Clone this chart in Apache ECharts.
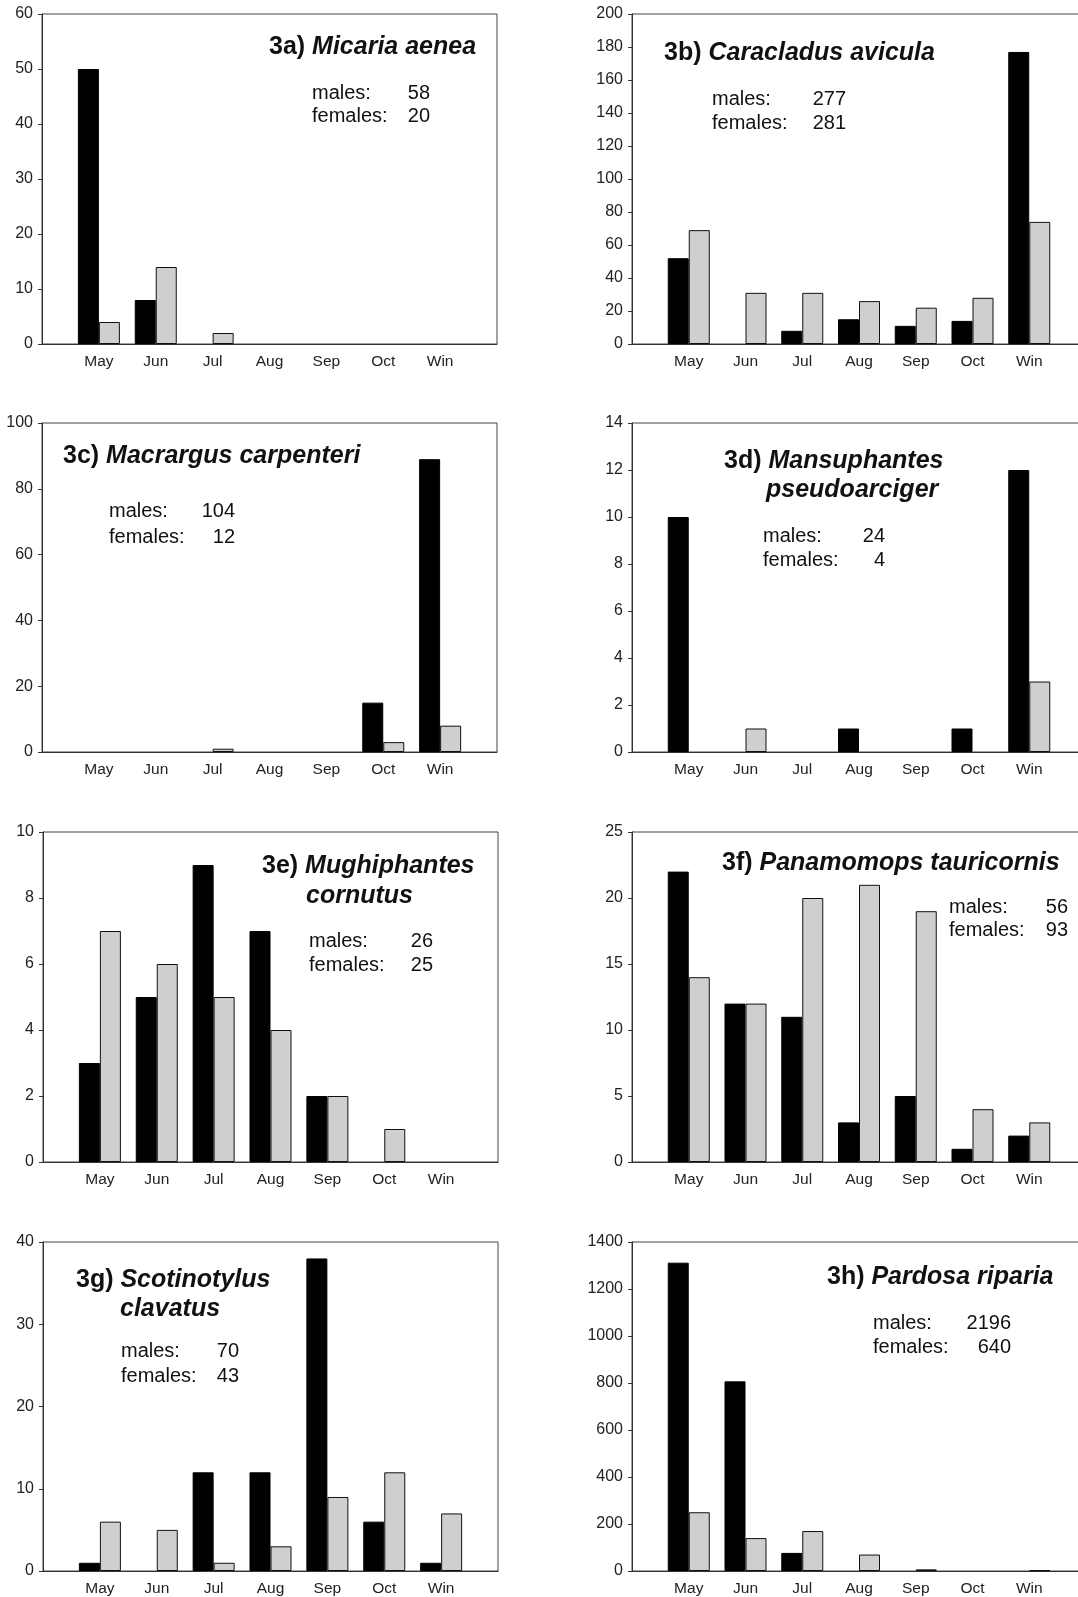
<!DOCTYPE html>
<html><head><meta charset="utf-8">
<script src="https://cdn.jsdelivr.net/npm/echarts@6/dist/echarts.min.js"></script>
<style>html,body{margin:0;padding:0;background:#fff;overflow:hidden}#c{width:1100px;height:1597px}</style>
</head><body><div id="c"></div>
<script>
// ---------- data ----------
const months = ['May', 'Jun', 'Jul', 'Aug', 'Sep', 'Oct', 'Win'];

const malesA = [50, 8, 0, 0, 0, 0, 0];
const femalesA = [4, 14, 2, 0, 0, 0, 0];
const malesB = [52, 0, 8, 15, 11, 14, 177];
const femalesB = [69, 31, 31, 26, 22, 28, 74];
const malesC = [0, 0, 0, 0, 0, 15, 89];
const femalesC = [0, 0, 1, 0, 0, 3, 8];
const malesD = [10, 0, 0, 1, 0, 1, 12];
const femalesD = [0, 1, 0, 0, 0, 0, 3];
const malesE = [3, 5, 9, 7, 2, 0, 0];
const femalesE = [7, 6, 5, 4, 2, 1, 0];
const malesF = [22, 12, 11, 3, 5, 1, 2];
const femalesF = [14, 12, 20, 21, 19, 4, 3];
const malesG = [1, 0, 12, 12, 38, 6, 1];
const femalesG = [6, 5, 1, 3, 9, 12, 7];
const malesH = [1312, 807, 77, 0, 0, 0, 0];
const femalesH = [250, 140, 170, 70, 7, 0, 3];

const yMax = [60, 200, 100, 14, 10, 25, 40, 1400];
const yStep = [10, 20, 20, 2, 2, 5, 10, 200];

const panelLabels = ['3a)', '3b)', '3c)', '3d)', '3e)', '3f)', '3g)', '3h)'];
const speciesLines = [
  ['Micaria aenea'],
  ['Caracladus avicula'],
  ['Macrargus carpenteri'],
  ['Mansuphantes', 'pseudoarciger'],
  ['Mughiphantes', 'cornutus'],
  ['Panamomops tauricornis'],
  ['Scotinotylus', 'clavatus'],
  ['Pardosa riparia']
];
const totalMales = [58, 277, 104, 24, 26, 56, 70, 2196];
const totalFemales = [20, 281, 12, 4, 25, 93, 43, 640];

const malesAll = [malesA, malesB, malesC, malesD, malesE, malesF, malesG, malesH];
const femalesAll = [femalesA, femalesB, femalesC, femalesD, femalesE, femalesF, femalesG, femalesH];

// ---------- layout (positions only) ----------
const grids = [
  {left: 42, top: 14, width: 455, height: 330},
  {left: 632, top: 14, width: 454, height: 330},
  {left: 42, top: 423, width: 455, height: 329},
  {left: 632, top: 423, width: 454, height: 329},
  {left: 43, top: 832, width: 455, height: 330},
  {left: 632, top: 832, width: 454, height: 330},
  {left: 43, top: 1242, width: 455, height: 330},
  {left: 632, top: 1242, width: 454, height: 330}
];
// title line positions [x, y] ; stats: [labelX, numRightX, y1, y2]
const titlePos = [
  [[269, 47]],
  [[664, 53]],
  [[63, 456]],
  [[724, 461], [766, 490]],
  [[262, 866], [306, 896]],
  [[722, 863]],
  [[76, 1280], [120, 1309]],
  [[827, 1277]]
];
const statPos = [
  [312, 430, 93, 116],
  [712, 846, 99, 123],
  [109, 235, 511, 537],
  [763, 885, 536, 560],
  [309, 433, 941, 965],
  [949, 1068, 907, 930],
  [121, 239, 1351, 1376],
  [873, 1011, 1323, 1347]
];

const FONT = '"Liberation Sans", Arial, sans-serif';
const axisCats = [''].concat(months, ['']);
// zero counts draw no bar
const pad = arr => ['-'].concat(arr.map(v => (v === 0 ? '-' : v)), ['-']);

const option = {
  backgroundColor: '#fff',
  animation: false,
  grid: [], xAxis: [], yAxis: [], series: [], graphic: []
};

for (let i = 0; i < 8; i++) {
  option.grid.push({
    left: grids[i].left, top: grids[i].top, width: grids[i].width, height: grids[i].height,
    show: true, borderColor: '#444', borderWidth: 1, backgroundColor: 'transparent'
  });
  option.xAxis.push({
    type: 'category', gridIndex: i, data: axisCats, boundaryGap: false,
    axisLine: {show: true, lineStyle: {color: '#333', width: 1}},
    axisTick: {show: false},
    axisLabel: {color: '#222', fontSize: 15.5, fontFamily: FONT, margin: 10, interval: 0},
    splitLine: {show: false}
  });
  option.yAxis.push({
    type: 'value', gridIndex: i, min: 0, max: yMax[i], interval: yStep[i],
    axisLine: {show: true, lineStyle: {color: '#333', width: 1}},
    axisTick: {show: true, inside: false, length: 4, lineStyle: {color: '#333'}},
    axisLabel: {color: '#222', fontSize: 16, fontFamily: FONT, margin: 9,
                formatter: v => String(v)},
    splitLine: {show: false}
  });
  option.series.push({
    type: 'bar', xAxisIndex: i, yAxisIndex: i, data: pad(malesAll[i]),
    barWidth: 21, barGap: '0%',
    itemStyle: {color: '#000', borderColor: '#000', borderWidth: 1}
  });
  option.series.push({
    type: 'bar', xAxisIndex: i, yAxisIndex: i, data: pad(femalesAll[i]),
    barWidth: 21, barGap: '0%',
    itemStyle: {color: '#cfcfcf', borderColor: '#111', borderWidth: 1}
  });

  // title
  const lines = speciesLines[i];
  lines.forEach((ln, k) => {
    const txt = k === 0 ? '{n|' + panelLabels[i] + '} {s|' + ln + '}' : '{s|' + ln + '}';
    option.graphic.push({
      type: 'text', x: titlePos[i][k][0], y: titlePos[i][k][1], z: 100,
      style: {
        text: txt, fill: '#111', align: 'left', verticalAlign: 'middle',
        fontSize: 25, fontFamily: FONT,
        rich: {
          n: {fontSize: 25, fontWeight: 'bold', fontFamily: FONT, fill: '#111'},
          s: {fontSize: 25, fontWeight: 'bold', fontStyle: 'italic', fontFamily: FONT, fill: '#111'}
        }
      }
    });
  });
  // stats
  const sp = statPos[i];
  const statItems = [
    ['males:', sp[0], sp[2], 'left'],
    ['females:', sp[0], sp[3], 'left'],
    [String(totalMales[i]), sp[1], sp[2], 'right'],
    [String(totalFemales[i]), sp[1], sp[3], 'right']
  ];
  statItems.forEach(s => {
    option.graphic.push({
      type: 'text', x: s[1], y: s[2], z: 100,
      style: {text: s[0], fill: '#111', align: s[3], verticalAlign: 'middle',
              fontSize: 20, fontFamily: FONT}
    });
  });
}

const chart = echarts.init(document.getElementById('c'), null, {renderer: 'canvas'});
chart.setOption(option);
</script>
</body></html>
